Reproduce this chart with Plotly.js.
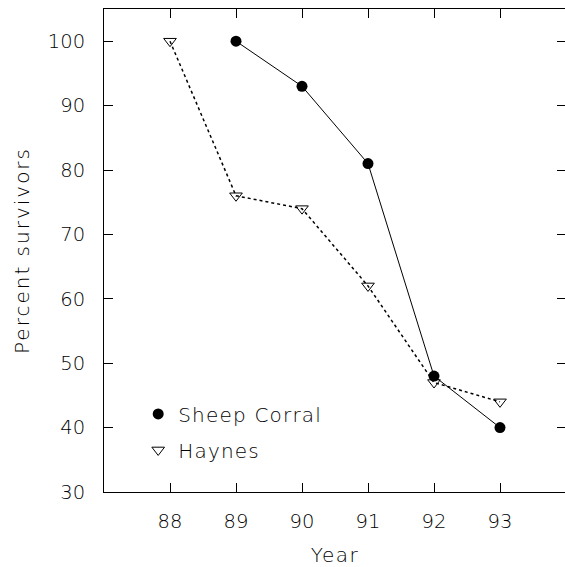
<!DOCTYPE html>
<html>
<head>
<meta charset="utf-8">
<script src="https://cdn.plot.ly/plotly-3.0.1.min.js"></script>
<style>
html,body{margin:0;padding:0;overflow:hidden;background:#fff;width:565px;height:567px;}
#chart{width:566px;height:567px;}
#chart .legendtext{letter-spacing:1.2px;}
#chart .legend .scrollbox, #chart .legend g, #chart .legend{clip-path:none !important;}
#chart .ytitle{letter-spacing:2px;}
#chart .xtitle{letter-spacing:1.5px;}
</style>
</head>
<body>
<div id="chart"></div>
<script>
// Data
const sheepYears = [89, 90, 91, 92, 93];
const sheepValues = [100, 93, 81, 48, 40];
const haynesYears = [88, 89, 90, 91, 92, 93];
const haynesValues = [100, 76, 74, 62, 47, 44];
const xTickVals = [88, 89, 90, 91, 92, 93];
const xTickText = ['88', '89', '90', '91', '92', '93'];
const yTickVals = [30, 40, 50, 60, 70, 80, 90, 100];

const FONT = '"DejaVu Sans", sans-serif';
const INK = '#000';
const fnt = (s) => ({family: FONT, size: s, color: INK, weight: 200});

const traces = [
  {x: sheepYears, y: sheepValues, mode: 'lines', showlegend: false,
   line: {color: INK, width: 1}, hoverinfo: 'skip'},
  {x: haynesYears, y: haynesValues, mode: 'lines', showlegend: false,
   line: {color: INK, width: 1.5, dash: 'dot'}, hoverinfo: 'skip'},
  {x: sheepYears, y: sheepValues, mode: 'markers', name: 'Sheep Corral', legendgroup: 'a',
   marker: {symbol: 'circle', size: 11, color: INK}},
  {x: haynesYears, y: haynesValues, mode: 'markers', name: 'Haynes', legendgroup: 'b',
   marker: {symbol: 'triangle-down-open', size: 11, color: INK, line: {width: 1, color: INK}}}
];

const axisCommon = {
  showgrid: false, zeroline: false, showline: true, linecolor: INK, linewidth: 1,
  mirror: 'ticks', ticks: 'inside', ticklen: 9, tickwidth: 1, tickcolor: INK,
  tickfont: fnt(19.5)
};

const layout = {
  width: 566, height: 567,
  margin: {l: 104, r: 0, t: 9, b: 75},
  paper_bgcolor: '#fff', plot_bgcolor: '#fff',
  font: fnt(20),
  xaxis: Object.assign({}, axisCommon, {
    range: [87, 94], tickvals: xTickVals, ticktext: xTickText,
    ticklabelstandoff: 12,
    title: {text: 'Year', font: fnt(20), standoff: 18}
  }),
  yaxis: Object.assign({}, axisCommon, {
    range: [30, 105], tickvals: yTickVals,
    ticklabelstandoff: 14,
    title: {text: 'Percent survivors', font: fnt(20), standoff: 12}
  }),
  showlegend: true,
  legend: {
    x: 0.074, y: 0.202, xanchor: 'left', yanchor: 'top',
    bgcolor: 'rgba(0,0,0,0)', borderwidth: 0,
    traceorder: 'grouped', tracegroupgap: 7,
    font: fnt(20)
  }
};

Plotly.newPlot('chart', traces, layout, {displayModeBar: false, staticPlot: true});
</script>
</body>
</html>
